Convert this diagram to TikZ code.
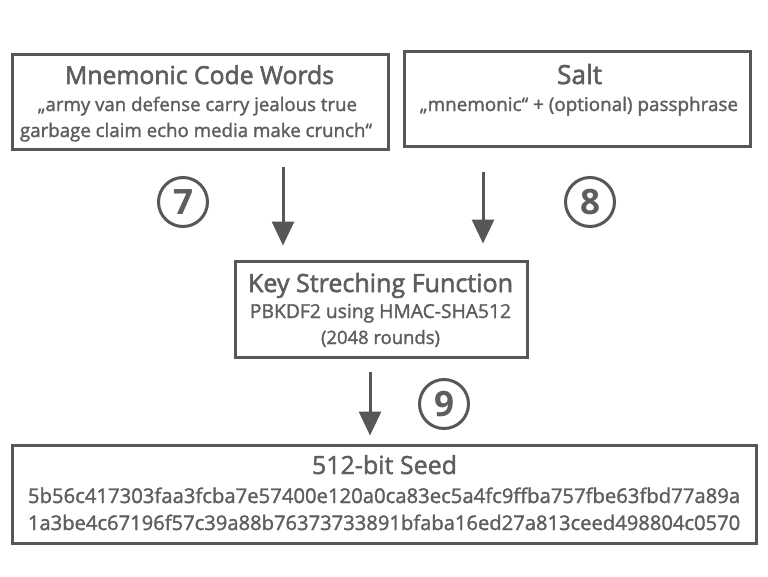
\documentclass[tikz,border=0pt]{standalone}
\usepackage{fontspec}
\setmainfont{Open Sans}
\newfontfamily\bodyfont{Open Sans}[FakeBold=1.6]
\newfontfamily\headfont{Open Sans}[FakeBold=2.2]
\usetikzlibrary{arrows.meta}
\definecolor{ink}{HTML}{5E5E5E}
\definecolor{edge}{HTML}{575757}
\newcommand\fitline[2]{\resizebox{#1pt}{!}{#2}}
\begin{document}
\begin{tikzpicture}[x=1pt,y=-1pt,
  box/.style={draw=edge,line width=3pt,inner sep=0pt},
  txt/.style={text=ink,inner sep=0pt,anchor=base,font=\bodyfont},
  head/.style={txt,font=\headfont},
  flow/.style={draw=edge,line width=3pt,-{Triangle[width=22pt,length=24pt]}},
  num/.style={circle,draw=edge,line width=3pt,minimum size=49pt,inner sep=0pt,text=ink,font=\fontsize{35}{35}\selectfont\bfseries}]
\useasboundingbox (0,0) rectangle (768,576);
\fill[white] (0,0) rectangle (768,576);

% boxes
\node[box,minimum width=376pt,minimum height=95pt] (words) at (200,101.5) {};
\node[box,minimum width=346pt,minimum height=95pt] (salt) at (577,98.5) {};
\node[box,minimum width=292pt,minimum height=96pt] (ksf) at (381,309) {};
\node[box,minimum width=744pt,minimum height=98pt] (seed) at (384,494) {};

% texts
\node[head] (wt) at (199.5,84) {\fitline{269}{Mnemonic Code Words}};
\node[txt] (w1) at (197.5,111) {\fitline{319}{„army van defense carry jealous true}};
\node[txt] (w2) at (196,137) {\fitline{352}{garbage claim echo media make crunch“}};
\node[head] (st) at (579.5,84) {\fitline{45}{Salt}};
\node[txt] (s1) at (579,111) {\fitline{318}{„mnemonic“ + (optional) passphrase}};
\node[head] (kt) at (380.5,292) {\fitline{265}{Key Streching Function}};
\node[txt] (k1) at (380.5,318) {\fitline{261}{PBKDF2 using HMAC-SHA512}};
\node[txt] (k2) at (380.5,344) {\fitline{119}{(2048 rounds)}};
\node[txt] (sdt) at (384.5,474) {\fitline{145}{512-bit Seed}};
\node[txt] (sd1) at (384,503) {\fitline{712}{5b56c417303faa3fcba7e57400e120a0ca83ec5a4fc9ffba757fbe63fbd77a89a}};
\node[txt] (sd2) at (384,530) {\fitline{712}{1a3be4c67196f57c39a88b76373733891bfaba16ed27a813ceed498804c0570}};

% step numbers
\node[num] (n7) at (183,202) {7};
\node[num] (n8) at (590,202) {8};
\node[num] (n9) at (444,404) {9};

% connectors
\draw[flow] ([xshift=83pt,yshift=-16pt]words.south) -- ([xshift=-98pt,yshift=14pt]ksf.north);
\draw[flow] ([xshift=-94pt,yshift=-24pt]salt.south) -- ([xshift=102pt,yshift=16pt]ksf.north);
\draw[flow] ([xshift=-11pt,yshift=-13pt]ksf.south) -- ([xshift=-14pt,yshift=8pt]seed.north);
\end{tikzpicture}
\end{document}
